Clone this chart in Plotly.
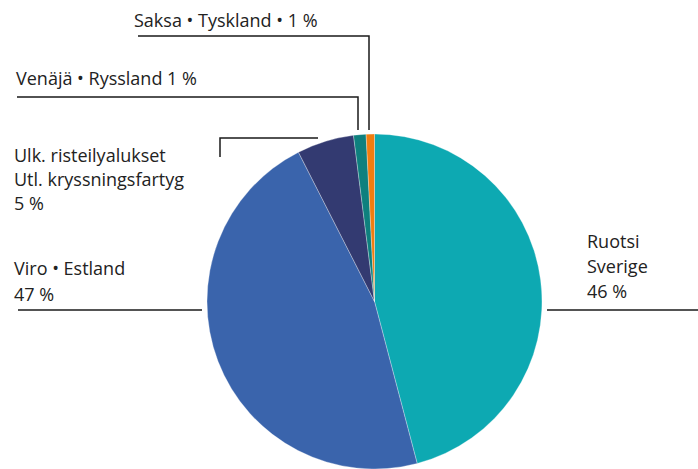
import plotly.graph_objects as go

categories = ["Ruotsi • Sverige", "Viro • Estland", "Ulk. risteilyalukset • Utl. kryssningsfartyg",
              "Venäjä • Ryssland", "Saksa • Tyskland"]
shares = [45.9, 46.6, 5.5, 1.2, 0.8]
colors = ["#0DA9B2", "#3A64AC", "#333A71", "#0E807E", "#F07D10"]

W, H = 698, 469

def px(x):
    return x / W

def py(y):
    return 1 - y / H

fig = go.Figure(go.Pie(
    labels=categories,
    values=shares,
    sort=False,
    direction="clockwise",
    rotation=0,
    textinfo="none",
    hoverinfo="label+percent",
    marker=dict(colors=colors, line=dict(color="rgba(255,255,255,0.5)", width=0.6)),
    domain=dict(x=[px(206), px(543)], y=[0, py(134)]),
    showlegend=False,
))

FONT = dict(family="Open Sans, sans-serif", size=18, color="#222222")

annotations = [
    (132, 20, "Saksa • Tyskland • 1 %"),
    (14, 78, "Venäjä • Ryssland 1 %"),
    (12, 155, "Ulk. risteilyalukset"),
    (12, 179, "Utl. kryssningsfartyg"),
    (12, 203, "5 %"),
    (12, 268, "Viro • Estland"),
    (12, 294, "47 %"),
    (585, 241, "Ruotsi"),
    (585, 266, "Sverige"),
    (585, 291, "46 %"),
]
for x, y, t in annotations:
    fig.add_annotation(x=px(x), y=py(y), xref="paper", yref="paper", text=t,
                       showarrow=False, xanchor="left", yanchor="middle", font=FONT)

LINE = dict(color="#1a1a1a", width=1.5)
paths = [
    [(138, 36), (369, 36), (369, 130)],
    [(17, 97), (358, 97), (358, 130)],
    [(220, 157), (220, 138), (318, 138)],
    [(18, 310), (202, 310)],
    [(547, 310), (698, 310)],
]
for pts in paths:
    d = "M " + " L ".join(f"{px(x)},{py(y)}" for x, y in pts)
    fig.add_shape(type="path", path=d, xref="paper", yref="paper", line=LINE)

fig.update_layout(
    width=W, height=H,
    margin=dict(l=0, r=0, t=0, b=0),
    paper_bgcolor="white", plot_bgcolor="white",
)

fig.write_html("out.html",
               config={"displayModeBar": False},
               post_script="document.body.style.margin='0';document.body.style.overflow='hidden';")
